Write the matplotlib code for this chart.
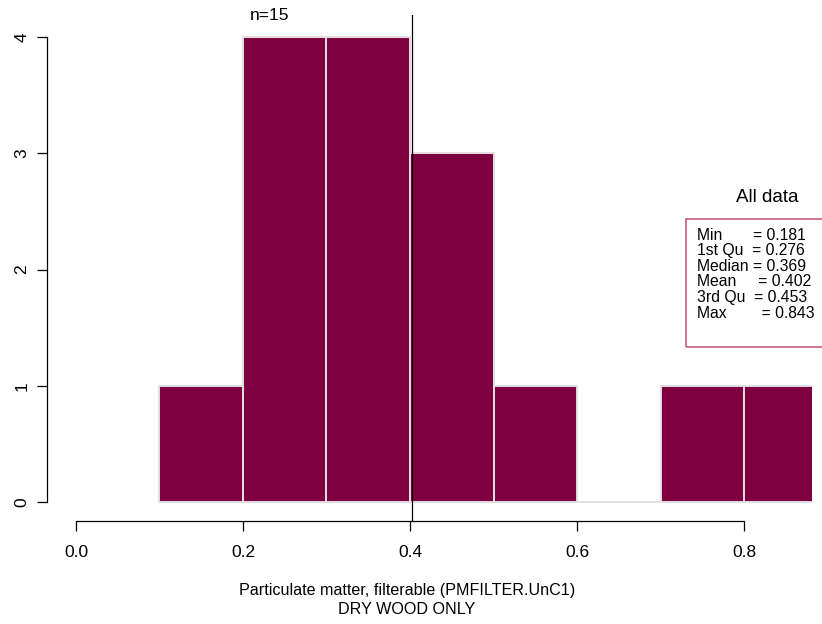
import matplotlib
matplotlib.use('Agg')
import matplotlib.pyplot as plt
from matplotlib.patches import Rectangle

plt.rcParams['font.family'] = ['Liberation Sans', 'DejaVu Sans']

# histogram data
bin_edges = [0.1, 0.2, 0.3, 0.4, 0.5, 0.6, 0.7, 0.8]
counts = [1, 4, 4, 3, 1, 0, 1, 1]
bin_width = 0.1
mean_val = 0.402
n_obs = 15

stat_names = ['Min', '1st Qu', 'Median', 'Mean', '3rd Qu', 'Max']
stat_vals = ['0.181', '0.276', '0.369', '0.402', '0.453', '0.843']
stat_pad = [' ' * 7, '  ', ' ', ' ' * 5, '  ', ' ' * 8]

xticks = [0.0, 0.2, 0.4, 0.6, 0.8]
yticks = [0, 1, 2, 3, 4]

fig = plt.figure(figsize=(8.22, 6.24), dpi=100)
W, H = 822, 624
ax = fig.add_axes([47 / W, 1 - 521 / H, (812 - 47) / W, (521 - 15) / H])

ax.bar(bin_edges, counts, width=bin_width, align='edge',
       color='#7f003f', edgecolor='#e4e0e0', linewidth=1.4)
ax.axvline(mean_val, color='black', linewidth=0.9)

ax.set_xlim(-0.0347, 0.8814)
ax.set_ylim(-0.164, 4.19)

for s in ['top', 'right']:
    ax.spines[s].set_visible(False)
ax.spines['left'].set_bounds(0, 4)
ax.spines['bottom'].set_bounds(0, 0.8)
ax.spines['left'].set_linewidth(0.9)
ax.spines['bottom'].set_linewidth(0.9)

ax.set_xticks(xticks)
ax.set_xticklabels(['%.1f' % v for v in xticks])
ax.set_yticks(yticks)
ax.set_yticklabels([str(v) for v in yticks], rotation=90, va='center')
ax.tick_params(axis='both', direction='out', length=7.2, width=0.9, labelsize=12.5)
ax.tick_params(axis='x', pad=10)
ax.tick_params(axis='y', pad=5.5)

ax.set_xlabel('Particulate matter, filterable (PMFILTER.UnC1)\nDRY WOOD ONLY',
              fontsize=11.6, linespacing=1.3)
ax.xaxis.set_label_coords((407 - 47) / (812 - 47), -(617 - 521) / (521 - 15))
ax.xaxis.label.set_va('bottom')

ax.text(0.232, 4.185, 'n=%d' % n_obs, fontsize=12.5, ha='center', va='center')

# summary box
fig.text(767 / W, 1 - 198 / H, 'All data', fontsize=13.5, ha='center', va='center')
fig.patches.append(Rectangle((686 / W, 1 - 347 / H), 150 / W, 128 / H,
                             transform=fig.transFigure, fill=False,
                             edgecolor='#c0507a', linewidth=1.1))
lines = [nm + p + '= ' + v for nm, p, v in zip(stat_names, stat_pad, stat_vals)]
for i, line in enumerate(lines):
    fig.text(697 / W, 1 - (235 + i * 15.6) / H, line, fontsize=11.3,
             ha='left', va='center')

fig.savefig('out.png', dpi=100)
